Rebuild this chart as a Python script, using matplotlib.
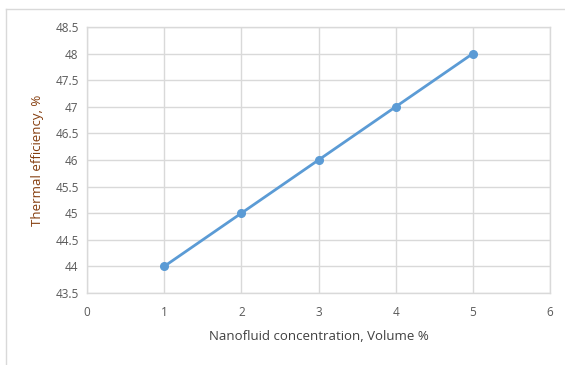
import matplotlib
matplotlib.use("Agg")
import matplotlib.pyplot as plt
from matplotlib.lines import Line2D

concentration = [1, 2, 3, 4, 5]
efficiency = [44, 45, 46, 47, 48]
x_ticks = [0, 1, 2, 3, 4, 5, 6]
y_ticks = [43.5, 44, 44.5, 45, 45.5, 46, 46.5, 47, 47.5, 48, 48.5]

plt.rcParams['font.family'] = ['Open Sans', 'DejaVu Sans']

W, H = 565, 365
fig = plt.figure(figsize=(W / 100, H / 100), dpi=100)
ax = fig.add_axes([87 / W, (H - 293) / H, (550 - 87) / W, (293 - 27) / H])

# chart area outline (left and top edges visible)
frame_col = '#d9d9d9'
fig.add_artist(Line2D([6 / W, 6 / W], [0, (H - 9) / H], color=frame_col, lw=1, transform=fig.transFigure))
fig.add_artist(Line2D([6 / W, 1], [(H - 9) / H, (H - 9) / H], color=frame_col, lw=1, transform=fig.transFigure))

line_col = '#5b9bd5'
ax.plot(concentration, efficiency, color=line_col, lw=2, marker='o', ms=5.5, zorder=3)

ax.set_xlim(0, 6)
ax.set_ylim(43.5, 48.5)
ax.set_xticks(x_ticks)
ax.set_yticks(y_ticks)
ax.set_xticklabels([str(v) for v in x_ticks])
ax.set_yticklabels([f'{v:g}' for v in y_ticks])
ax.grid(True, color='#d9d9d9', lw=1)
ax.set_axisbelow(True)
for s in ax.spines.values():
    s.set_color('#d9d9d9')
    s.set_linewidth(1)
ax.tick_params(length=0, labelsize=8.5, labelcolor='#595959')
ax.tick_params(axis='x', pad=9)
ax.tick_params(axis='y', pad=6)

ax.set_xlabel('Nanofluid concentration, Volume %', fontsize=9.5, color='#404040', labelpad=8)
ax.set_ylabel('Thermal efficiency, %', fontsize=9.5, color='#843c0c', labelpad=8)
ax.yaxis.label.set_fontstretch('expanded')

fig.savefig('out.png', dpi=100, facecolor='white')
